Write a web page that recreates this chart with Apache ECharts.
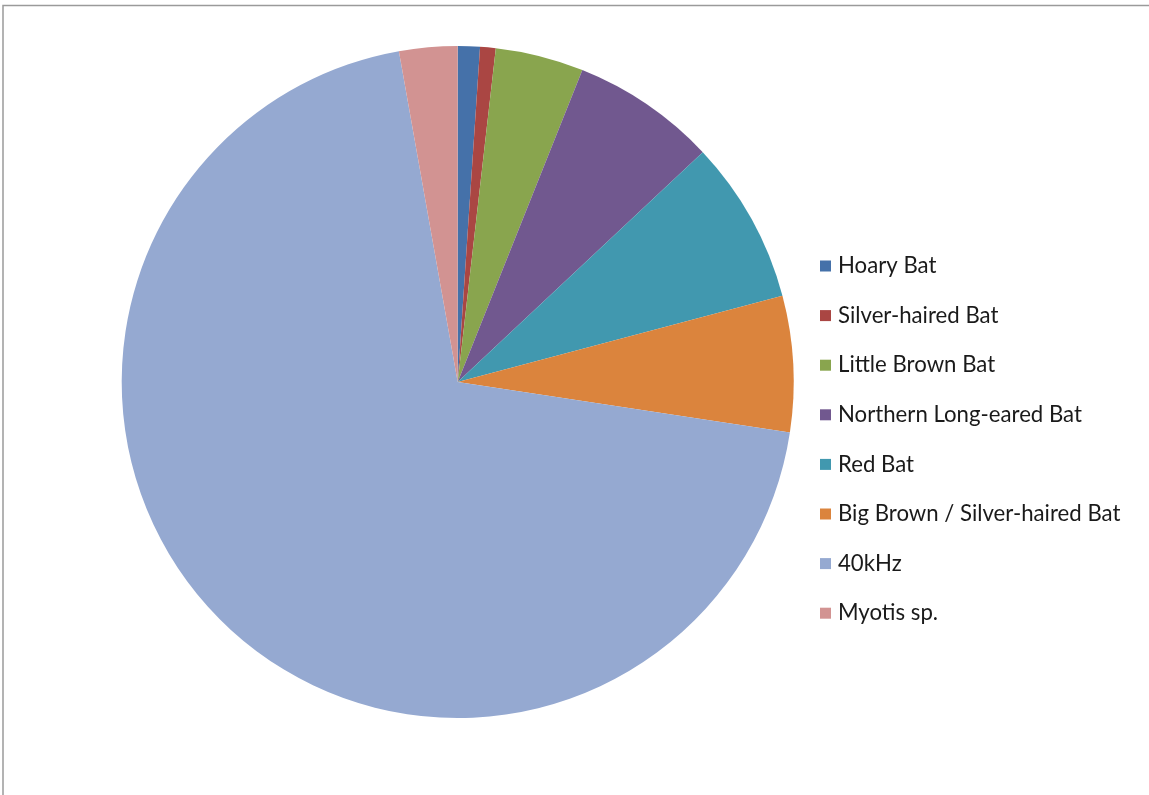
<!DOCTYPE html>
<html>
<head>
<meta charset="utf-8">
<title>Bat detections by species</title>
<script src="https://cdn.jsdelivr.net/npm/echarts@6/dist/echarts.min.js"></script>
<style>
  html, body { margin: 0; padding: 0; background: #ffffff; }
  #chart { width: 1149px; height: 795px; }
</style>
</head>
<body>
<div id="chart"></div>
<script>
// Species groups, in the order the slices run clockwise from 12 o'clock
const categories = [
  'Hoary Bat',
  'Silver-haired Bat',
  'Little Brown Bat',
  'Northern Long-eared Bat',
  'Red Bat',
  'Big Brown / Silver-haired Bat',
  '40kHz',
  'Myotis sp.'
];

// Share of recorded calls (percent)
const shares = [1.06, 0.75, 4.24, 6.96, 7.86, 6.53, 69.8, 2.80];

// Slice colours
const sliceColors = ['#4571A9', '#AA4643', '#89A54E', '#71588F', '#4198AF', '#DB843D', '#95A9D1', '#D29392'];

const chart = echarts.init(document.getElementById('chart'), null, { renderer: 'canvas' });

const pieData = categories.map((name, i) => ({
  name: name,
  value: shares[i],
  itemStyle: { color: sliceColors[i] }
}));

chart.setOption({
  animation: false,
  backgroundColor: '#ffffff',
  graphic: [{
    type: 'rect',
    shape: { x: 3, y: 5.5, width: 1160, height: 800 },
    style: { fill: 'none', stroke: '#9a9a9a', lineWidth: 1.5 },
    silent: true
  }],
  legend: {
    orient: 'vertical',
    left: 815,
    top: 250,
    itemWidth: 11,
    itemHeight: 11,
    itemGap: 27.6,
    icon: 'rect',
    selectedMode: false,
    data: categories,
    textStyle: {
      fontFamily: 'Lato, "Open Sans", sans-serif',
      fontSize: 22.2,
      lineHeight: 20,
      color: '#1a1a1a',
      padding: [0, 0, 0, 2]
    }
  },
  series: [{
    type: 'pie',
    center: [457.7, 382],
    radius: 336,
    startAngle: 90,
    clockwise: true,
    avoidLabelOverlap: false,
    label: { show: false },
    labelLine: { show: false },
    emphasis: { disabled: true },
    itemStyle: { borderWidth: 0 },
    data: pieData
  }]
});
</script>
</body>
</html>
